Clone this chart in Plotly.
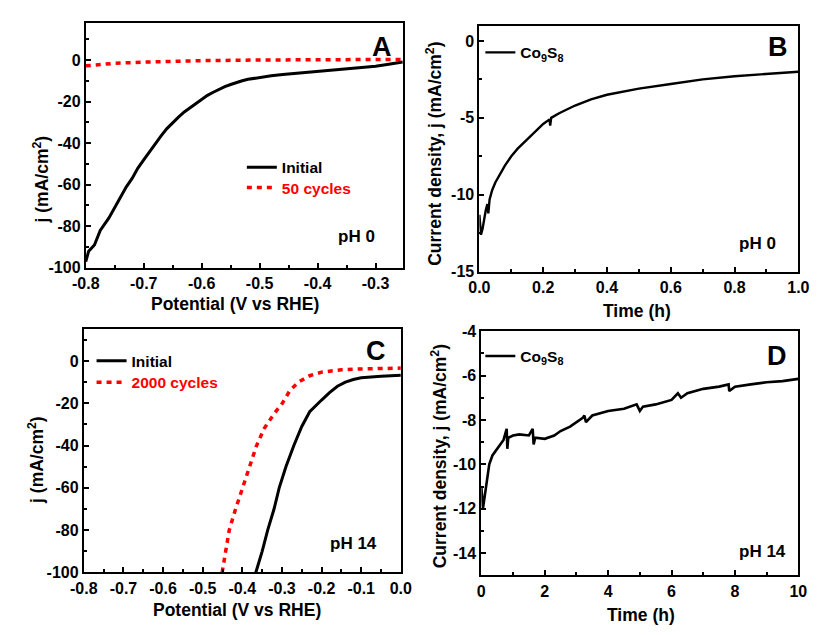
import plotly.graph_objects as go

# ---------------- Data ----------------
# Panel A (pH 0, LSV)
a_init_x = [-0.800, -0.795, -0.785, -0.775, -0.760, -0.750, -0.740, -0.730, -0.720, -0.710,
            -0.700, -0.690, -0.680, -0.670, -0.660, -0.650, -0.640, -0.630, -0.620, -0.610,
            -0.600, -0.590, -0.580, -0.570, -0.560, -0.550, -0.540, -0.530, -0.520, -0.510,
            -0.500, -0.480, -0.460, -0.440, -0.420, -0.400, -0.380, -0.360, -0.340, -0.320,
            -0.300, -0.280, -0.260, -0.253]
a_init_y = [-97, -92, -89, -82, -76, -71, -66, -61, -57, -52,
            -48, -44, -40, -36.5, -33, -30, -27.5, -25, -23, -21,
            -19, -17, -15.5, -14, -12.8, -11.8, -10.8, -10, -9.3, -8.8,
            -8.3, -7.6, -7.0, -6.5, -6.0, -5.6, -5.2, -4.8, -4.3, -3.7,
            -3.0, -2.2, -1.4, -1.0]
a_cyc_x = [-0.800, -0.780, -0.750, -0.700, -0.650, -0.600, -0.500, -0.400, -0.300, -0.253]
a_cyc_y = [-2.8, -2.2, -1.6, -1.0, -0.6, -0.3, 0.0, 0.0, 0.1, 0.3]

# Panel B (pH 0, chronoamperometry)
b_t = [0.0, 0.005, 0.01, 0.015, 0.02, 0.025, 0.028, 0.032, 0.04, 0.05, 0.06, 0.08,
       0.10, 0.12, 0.15, 0.20, 0.22, 0.222, 0.225, 0.25, 0.30, 0.35, 0.40, 0.50,
       0.60, 0.70, 0.80, 0.90, 1.00]
b_j = [-11.3, -12.6, -12.2, -11.5, -11.0, -10.6, -11.2, -10.3, -9.7, -9.2, -8.8, -8.1,
       -7.5, -7.0, -6.4, -5.4, -5.1, -5.5, -5.0, -4.7, -4.2, -3.8, -3.5, -3.1,
       -2.8, -2.5, -2.3, -2.15, -2.0]

# Panel C (pH 14, LSV)
c_init_x = [-0.366, -0.350, -0.336, -0.320, -0.307, -0.290, -0.270, -0.250, -0.230, -0.220,
            -0.200, -0.180, -0.160, -0.140, -0.120, -0.100, -0.080, -0.050, 0.0]
c_init_y = [-100, -90, -80, -70, -60, -50, -40, -31, -24, -22,
            -18.5, -15, -12, -10, -8.8, -8.0, -7.6, -7.2, -6.8]
c_cyc_x = [-0.451, -0.443, -0.433, -0.417, -0.400, -0.383, -0.364, -0.345, -0.320, -0.299,
           -0.280, -0.258, -0.230, -0.200, -0.150, -0.100, -0.050, 0.0]
c_cyc_y = [-100, -90, -80, -70, -60, -50, -40, -32, -25, -20,
           -14, -10, -7, -5.3, -4.2, -3.8, -3.6, -3.4]

# Panel D (pH 14, chronoamperometry)
d_t = [0.0, 0.05, 0.15, 0.25, 0.35, 0.5, 0.7, 0.8, 0.82, 0.85, 1.0, 1.2, 1.5, 1.62, 1.65,
       1.7, 2.0, 2.3, 2.5, 2.8, 3.0, 3.2, 3.25, 3.3, 3.5, 4.0, 4.5, 4.9, 5.0, 5.1,
       5.5, 6.0, 6.2, 6.3, 6.5, 7.0, 7.5, 7.8, 7.82, 8.0, 8.5, 9.0, 9.5, 10.0]
d_j = [-11.0, -12.0, -11.0, -10.0, -9.6, -9.3, -8.9, -8.4, -9.3, -8.8, -8.7, -8.65, -8.7, -8.4, -9.1,
       -8.8, -8.85, -8.7, -8.5, -8.3, -8.1, -7.9, -7.8, -8.1, -7.8, -7.6, -7.5, -7.3, -7.6, -7.4,
       -7.3, -7.1, -6.8, -7.0, -6.8, -6.6, -6.5, -6.4, -6.7, -6.5, -6.4, -6.3, -6.25, -6.15]

# Tick labels
a_xticks = [-0.8, -0.7, -0.6, -0.5, -0.4, -0.3]
a_xtext = ["-0.8", "-0.7", "-0.6", "-0.5", "-0.4", "-0.3"]
a_yticks = [-100, -80, -60, -40, -20, 0]
a_ytext = ["-100", "-80", "-60", "-40", "-20", "0"]
b_xticks = [0.0, 0.2, 0.4, 0.6, 0.8, 1.0]
b_xtext = ["0.0", "0.2", "0.4", "0.6", "0.8", "1.0"]
b_yticks = [-15, -10, -5, 0]
b_ytext = ["-15", "-10", "-5", "0"]
c_xticks = [-0.8, -0.7, -0.6, -0.5, -0.4, -0.3, -0.2, -0.1, 0.0]
c_xtext = ["-0.8", "-0.7", "-0.6", "-0.5", "-0.4", "-0.3", "-0.2", "-0.1", "0.0"]
c_yticks = [-100, -80, -60, -40, -20, 0]
c_ytext = ["-100", "-80", "-60", "-40", "-20", "0"]
d_xticks = [0, 2, 4, 6, 8, 10]
d_xtext = ["0", "2", "4", "6", "8", "10"]
d_yticks = [-14, -12, -10, -8, -6, -4]
d_ytext = ["-14", "-12", "-10", "-8", "-6", "-4"]

# ---------------- Figure ----------------
W, H = 821, 635
FONT = "Liberation Sans, Arial, Helvetica, sans-serif"
RED = "#ff0000"
DOT = "5px,5px"

fig = go.Figure()
fig.add_trace(go.Scatter(x=a_init_x, y=a_init_y, mode="lines", name="Initial", showlegend=True,
                         line=dict(color="black", width=3), xaxis="x", yaxis="y", legend="legend"))
fig.add_trace(go.Scatter(x=a_cyc_x, y=a_cyc_y, mode="lines", showlegend=True,
                         name="<span style='color:#ff0000'>50 cycles</span>",
                         line=dict(color=RED, width=3.5, dash=DOT), xaxis="x", yaxis="y", legend="legend2"))
fig.add_trace(go.Scatter(x=b_t, y=b_j, mode="lines", name="Co<sub>9</sub>S<sub>8</sub>", showlegend=True,
                         line=dict(color="black", width=2.4), xaxis="x2", yaxis="y2", legend="legend3"))
fig.add_trace(go.Scatter(x=c_init_x, y=c_init_y, mode="lines", name="Initial", showlegend=True,
                         line=dict(color="black", width=3), xaxis="x3", yaxis="y3", legend="legend4"))
fig.add_trace(go.Scatter(x=c_cyc_x, y=c_cyc_y, mode="lines", showlegend=True,
                         name="<span style='color:#ff0000'>2000 cycles</span>",
                         line=dict(color=RED, width=3.5, dash=DOT), xaxis="x3", yaxis="y3", legend="legend5"))
fig.add_trace(go.Scatter(x=d_t, y=d_j, mode="lines", name="Co<sub>9</sub>S<sub>8</sub>", showlegend=True,
                         line=dict(color="black", width=2.6), xaxis="x4", yaxis="y4", legend="legend6"))


def px_x(p):
    return p / W


def px_y(p):
    return 1 - p / H


def axis(domain, rng, tickvals, ticktext, minor_dtick, anchor):
    return dict(domain=domain, range=rng, anchor=anchor, tickmode="array",
                tickvals=tickvals, ticktext=ticktext,
                showline=True, linecolor="black", linewidth=2, mirror=True,
                ticks="inside", ticklen=5, tickwidth=1.5, tickcolor="black",
                minor=dict(ticks="inside", ticklen=3, tickwidth=1.5, tickcolor="black",
                           dtick=minor_dtick, showgrid=False),
                showgrid=False, zeroline=False,
                tickfont=dict(family=FONT, size=16, color="black", weight="bold"))


layout = dict(
    width=W, height=H, margin=dict(l=0, r=0, t=0, b=0),
    paper_bgcolor="white", plot_bgcolor="white", showlegend=True,
    font=dict(family=FONT, color="black"),
    xaxis=axis([px_x(74), px_x(401)], [-0.8, -0.253], a_xticks, a_xtext, 0.05, "y"),
    yaxis=axis([px_y(267), px_y(15)], [-100, 18], a_yticks, a_ytext, 10, "x"),
    xaxis2=axis([px_x(480), px_x(809)], [0, 1], b_xticks, b_xtext, 0.1, "y2"),
    yaxis2=axis([px_y(271), px_y(18)], [-15, 1], b_yticks, b_ytext, 2.5, "x2"),
    xaxis3=axis([px_x(72), px_x(399)], [-0.8, 0], c_xticks, c_xtext, 0.05, "y3"),
    yaxis3=axis([px_y(580), px_y(330)], [-100, 15], c_yticks, c_ytext, 10, "x3"),
    xaxis4=axis([px_x(482), px_x(809)], [0, 10], d_xticks, d_xtext, 1, "y4"),
    yaxis4=axis([px_y(583), px_y(332)], [-15, -4], d_yticks, d_ytext, 1, "x4"),
)

leg_common = dict(bgcolor="rgba(0,0,0,0)", borderwidth=0, xanchor="left", yanchor="middle",
                  font=dict(family=FONT, size=15.5, color="black", weight="bold"),
                  tracegroupgap=0, itemclick=False, visible=True)
layout["legend"] = dict(x=px_x(235), y=px_y(164), **leg_common)
layout["legend2"] = dict(x=px_x(235), y=px_y(185), **leg_common)
layout["legend3"] = dict(x=px_x(481), y=px_y(46), **leg_common)
layout["legend4"] = dict(x=px_x(80), y=px_y(363), **leg_common)
layout["legend5"] = dict(x=px_x(80), y=px_y(385), **leg_common)
layout["legend6"] = dict(x=px_x(481), y=px_y(358), **leg_common)

fig.update_layout(**layout)

ann = []


def label(text, x, y, size, angle=0):
    ann.append(dict(text=text, x=px_x(x), y=px_y(y), xref="paper", yref="paper",
                    xanchor="center", yanchor="middle", showarrow=False, textangle=angle,
                    font=dict(family=FONT, size=size, color="black", weight="bold")))


# panel letters
label("A", 380, 40, 27)
label("B", 788, 40, 27)
label("C", 373, 352, 27)
label("D", 787, 358, 27)
# pH labels
label("pH 0", 353, 235, 17)
label("pH 0", 767, 242, 17)
label("pH 14", 350, 550, 17)
label("pH 14", 772, 558, 17)
# axis titles
label("Potential (V vs RHE)", 228, 304, 17.5)
label("Time (h)", 643, 311, 17.5)
label("Potential (V vs RHE)", 230, 619, 17.5)
label("Time (h)", 647, 624, 17.5)
label("j (mA/cm<sup>2</sup>)", 28, 176, 17.5, -90)
label("Current density, j (mA/cm<sup>2</sup>)", 433, 150, 17.5, -90)
label("j (mA/cm<sup>2</sup>)", 22, 464, 17.5, -90)
label("Current density, j (mA/cm<sup>2</sup>)", 438, 461, 17.5, -90)

fig.update_layout(annotations=ann)
fig.write_html("out.html")
